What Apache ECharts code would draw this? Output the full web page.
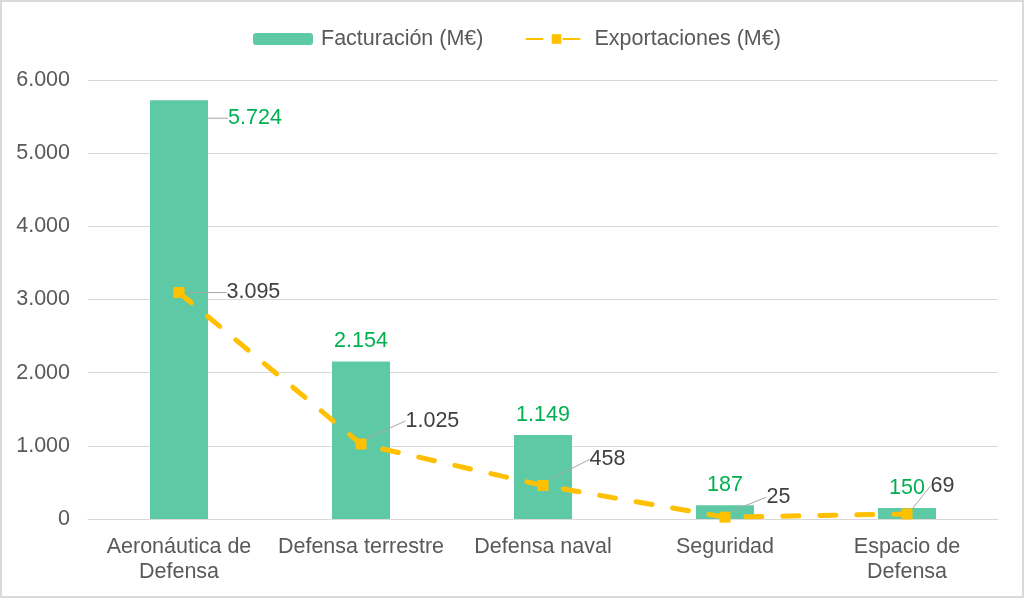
<!DOCTYPE html>
<html>
<head>
<meta charset="utf-8">
<script src="https://cdn.jsdelivr.net/npm/echarts@6/dist/echarts.min.js"></script>
<style>
  html, body { margin: 0; padding: 0; background: #fff; }
  #main { width: 1024px; height: 598px; }
  #frame { position: absolute; left: 0; top: 0; width: 1024px; height: 598px;
           box-sizing: border-box; border: 2px solid #d9d9d9; pointer-events: none; }
</style>
</head>
<body>
<div id="main"></div>
<div id="frame"></div>
<script>
var categories = ['Aeronáutica de\nDefensa', 'Defensa terrestre', 'Defensa naval', 'Seguridad', 'Espacio de\nDefensa'];
var facturacion = [5724, 2154, 1149, 187, 150];
var exportaciones = [3095, 1025, 458, 25, 69];
var yTicks = [0, 1000, 2000, 3000, 4000, 5000, 6000];

// desplazamiento de las etiquetas (px)
var barLabelMove = [[76, 38], [0, 0], [0, 0], [0, 0], [0, 0]];
var lineLabelMove = [[36, 0], [33, -23], [35, -26], [30, -20], [12, -28]];

var myChart = echarts.init(document.getElementById('main'));

function fmt(v) {
    return String(v).replace(/\B(?=(\d{3})+(?!\d))/g, '.');
}

var font = 'Liberation Sans, Arial, sans-serif';
var fs = 21.5;

var option = {
    animation: false,
    textStyle: { fontFamily: font },
    legend: {
        top: 23,
        left: 248,
        itemWidth: 60,
        itemHeight: 12,
        itemGap: 42,
        textStyle: { fontSize: fs, color: '#595959', fontFamily: font, padding: [0, 0, 0, 3] },
        data: ['Facturación (M€)', 'Exportaciones (M€)']
    },
    grid: { left: 88, right: 26, top: 80, bottom: 79 },
    xAxis: {
        type: 'category',
        data: categories,
        axisTick: { show: false },
        axisLine: { lineStyle: { color: '#d9d9d9', width: 1 } },
        axisLabel: { fontSize: fs, color: '#595959', lineHeight: 25, margin: 16, interval: 0, fontFamily: font }
    },
    yAxis: {
        type: 'value',
        min: yTicks[0],
        max: yTicks[yTicks.length - 1],
        interval: 1000,
        axisLabel: { fontSize: fs, color: '#595959', margin: 18, formatter: fmt, fontFamily: font },
        splitLine: { lineStyle: { color: '#d9d9d9', width: 1 } }
    },
    series: [
        {
            name: 'Facturación (M€)',
            type: 'bar',
            barWidth: 58,
            itemStyle: { color: '#5dc9a5' },
            label: {
                show: true,
                position: 'top',
                distance: 9,
                fontSize: fs,
                color: '#00b050',
                fontFamily: font,
                formatter: function (p) { return fmt(p.value); }
            },
            labelLine: { show: false },
            labelLayout: function (p) {
                return { dx: barLabelMove[p.dataIndex][0], dy: barLabelMove[p.dataIndex][1] };
            },
            data: facturacion.map(function (v, i) {
                if (i === 0) {
                    return { value: v, labelLine: { show: true, lineStyle: { color: '#a6a6a6', width: 1 } } };
                }
                return v;
            })
        },
        {
            name: 'Exportaciones (M€)',
            type: 'line',
            symbol: 'rect',
            symbolSize: 11,
            itemStyle: { color: '#ffc000' },
            lineStyle: { color: '#ffc000', width: 5, type: [16, 21], cap: 'round' },
            label: {
                show: true,
                position: 'right',
                distance: 6,
                fontSize: fs,
                color: '#404040',
                fontFamily: font,
                formatter: function (p) { return fmt(p.value); }
            },
            labelLine: { show: true, lineStyle: { color: '#a6a6a6', width: 1 } },
            labelLayout: function (p) {
                return { dx: lineLabelMove[p.dataIndex][0], dy: lineLabelMove[p.dataIndex][1] };
            },
            data: exportaciones,
            z: 5
        }
    ]
};

myChart.setOption(option);
</script>
</body>
</html>
